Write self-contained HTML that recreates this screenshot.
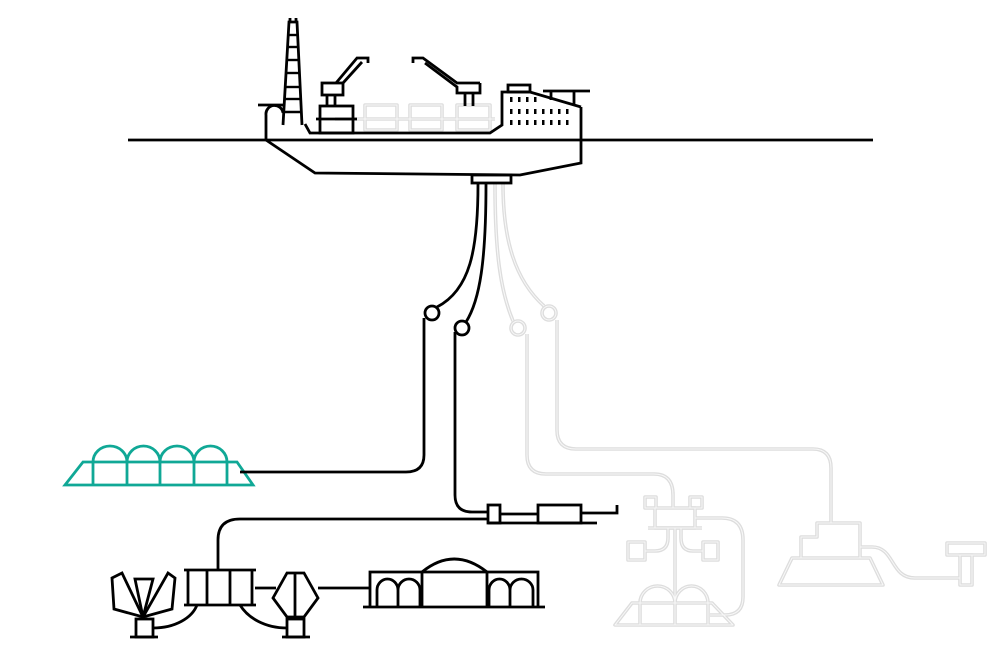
<!DOCTYPE html>
<html><head><meta charset="utf-8"><style>html,body{margin:0;padding:0;background:#fff}svg{display:block}</style></head>
<body>
<svg width="1000" height="667" viewBox="0 0 1000 667" xmlns="http://www.w3.org/2000/svg">
<defs>
<g id="gp">
  <rect x="365" y="105" width="32" height="25"/><rect x="410" y="105" width="32" height="25"/><rect x="457" y="105" width="33" height="25"/>
  <line x1="335" y1="119" x2="495" y2="119"/>
  <path d="M495,184 C495,250 500,290 513,321"/>
  <circle cx="518" cy="328" r="7"/>
  <path d="M527,334 L527,455 Q527,474 546,474 L654,474 Q673,474 673,495 L673,508"/>
  <path d="M503,184 C503,240 515,280 544,306"/>
  <circle cx="549" cy="313" r="7"/>
  <path d="M557,320 L557,430 Q557,449 576,449 L813,449 Q831,449 831,468 L831,523"/>
  <rect x="655" y="508" width="40" height="20"/>
  <line x1="648" y1="528" x2="702" y2="528"/>
  <rect x="645" y="497" width="11" height="11"/><rect x="690" y="497" width="12" height="11"/>
  <rect x="628" y="542" width="17" height="18"/><rect x="703" y="542" width="15" height="18"/>
  <path d="M645,551 L655,551 Q668,551 668,538 L668,528"/>
  <path d="M703,551 L693,551 Q681,551 681,538 L681,528"/>
  <line x1="675" y1="528" x2="675" y2="625"/>
  <path d="M615,625 L733,625 L712,603 L632,603 Z"/>
  <line x1="640" y1="603" x2="640" y2="625"/><line x1="708" y1="603" x2="708" y2="625"/>
  <path d="M640,603 A17.5,17 0 0 1 675,603 A16.5,17 0 0 1 708,603"/>
  <path d="M695,518 L722,518 Q743,518 743,540 L743,597 Q743,615 725,615 L710,615"/>
  <path d="M779,585 L883,585 L870,558 L792,558 Z"/>
  <path d="M801,558 L801,537 L817,537 L817,523 L860,523 L860,558"/>
  <path d="M860,547 L872,547 C895,547 890,578 915,578 L960,578"/>
  <rect x="947" y="543" width="38" height="12"/>
  <rect x="960" y="555" width="12" height="30"/>
</g>
</defs>
<g fill="none" stroke="#dddddd" stroke-width="3.6" stroke-linejoin="round"><use href="#gp"/></g>
<g fill="none" stroke="#f8f8f8" stroke-width="1" stroke-linejoin="round"><use href="#gp"/></g>
<!-- green template -->
<g fill="none" stroke="#10a896" stroke-width="2.8">
  <path d="M65,485 L253,485 L237,462 L83,462 Z"/>
  <line x1="93" y1="462" x2="93" y2="485"/><line x1="127" y1="462" x2="127" y2="485"/><line x1="160" y1="462" x2="160" y2="485"/><line x1="194" y1="462" x2="194" y2="485"/><line x1="227" y1="462" x2="227" y2="485"/>
  <path d="M93,462 A17,16 0 0 1 127,462 A16.5,16 0 0 1 160,462 A17,16 0 0 1 194,462 A16.5,16 0 0 1 227,462"/>
</g>
<!-- black -->
<g fill="none" stroke="#000" stroke-width="2.8" stroke-linejoin="miter">
  <line x1="128" y1="140" x2="873" y2="140"/>
  <path d="M266,140 L315,173 L520,175 L581,163 L581,107"/>
  <path d="M266,140 L266,115 A8,8 0 0 1 283,113"/>
  <path d="M305,124 L310,133 L490,133 L502,125 L502,92 L530,92 L581,107"/>
  <rect x="508" y="85" width="22" height="7"/>
  <line x1="543" y1="91" x2="590" y2="91"/><line x1="551" y1="91" x2="551" y2="100"/><line x1="574" y1="91" x2="574" y2="104"/>
  <path d="M283,125 L289,22 L297,22 L302,125"/>
  <line x1="290" y1="18" x2="290" y2="23"/><line x1="296" y1="18" x2="296" y2="23"/>
  <g stroke-width="2.4"><line x1="289" y1="35" x2="297" y2="35"/><line x1="288" y1="47" x2="298" y2="47"/><line x1="288" y1="60" x2="299" y2="60"/><line x1="287" y1="73" x2="299" y2="73"/><line x1="286" y1="87" x2="300" y2="87"/><line x1="285" y1="99" x2="300" y2="99"/><line x1="284" y1="112" x2="301" y2="112"/></g>
  <line x1="258" y1="105" x2="285" y2="105"/>
  <rect x="320" y="106" width="33" height="27"/>
  <line x1="316" y1="119" x2="357" y2="119"/>
  <line x1="327" y1="95" x2="327" y2="106"/><line x1="335" y1="95" x2="335" y2="106"/>
  <rect x="322" y="83" width="21" height="12"/>
  <path d="M336,83 L357,58 L368,58 L368,63"/><path d="M343,83 L362,62"/>
  <path d="M480,83 L457,83 L423,58 L413,58 L413,63"/><path d="M480,83 L480,93 L457,93 L457,87 L425,63"/>
  <line x1="465" y1="93" x2="465" y2="106"/><line x1="473" y1="93" x2="473" y2="106"/>
  <rect x="472" y="175" width="39" height="8"/>
  <path d="M478,184 C478,250 470,290 437,307"/>
  <circle cx="432" cy="313" r="7"/>
  <path d="M424,318 L424,455 Q424,472 406,472 L240,472"/>
  <path d="M486,184 C486,260 480,300 466,322"/>
  <circle cx="462" cy="328" r="7"/>
  <path d="M455,332 L455,495 Q455,512 472,512 L488,512"/>
  <rect x="488" y="505" width="12" height="18"/>
  <line x1="500" y1="514" x2="538" y2="514"/>
  <line x1="488" y1="523" x2="597" y2="523"/>
  <rect x="538" y="505" width="43" height="18"/>
  <path d="M581,513 L617,513 L617,505"/>
  <path d="M488,519 L240,519 Q218,519 218,540 L218,570"/>
  <line x1="184" y1="570" x2="256" y2="570"/><line x1="184" y1="605" x2="256" y2="605"/>
  <line x1="188" y1="570" x2="188" y2="605"/><line x1="207" y1="570" x2="207" y2="605"/><line x1="230" y1="570" x2="230" y2="605"/><line x1="252" y1="570" x2="252" y2="605"/>
  <path d="M112,578 L122,573 L143,617 L114,609 Z"/>
  <path d="M135,579 L153,579 L143,617 Z"/>
  <path d="M168,573 L175,578 L172,609 L143,617 Z"/>
  <rect x="136" y="619" width="17" height="18"/>
  <line x1="130" y1="637" x2="158" y2="637"/>
  <path d="M153,628 C175,628 192,618 197,605"/>
  <path d="M240,605 C248,618 265,628 287,628"/>
  <path d="M287,573 L304,573 L318,598 L304,617 L287,617 L273,598 Z"/>
  <line x1="295" y1="573" x2="295" y2="617"/>
  <rect x="287" y="619" width="17" height="18"/>
  <line x1="282" y1="637" x2="310" y2="637"/>
  <line x1="255" y1="588" x2="276" y2="588"/>
  <line x1="318" y1="588" x2="370" y2="588"/>
  <path d="M370,607 L370,572 L538,572 L538,607"/>
  <line x1="363" y1="607" x2="545" y2="607"/>
  <path d="M422,607 L422,572 M487,607 L487,572"/>
  <path d="M422,572 Q454,546 487,572"/>
  <path d="M377,607 V590 A10.5,11 0 0 1 398,590 V607 M398,590 A11,11 0 0 1 420,590 V607"/>
  <path d="M489,607 V590 A10.5,11 0 0 1 510,590 V607 M510,590 A11.5,11 0 0 1 533,590 V607"/>
</g>
<g fill="#000">
  <rect x="510" y="97" width="2.5" height="5"/><rect x="518" y="97" width="2.5" height="5"/><rect x="526" y="97" width="2.5" height="5"/><rect x="534" y="97" width="2.5" height="5"/>
  <rect x="510" y="109" width="2.5" height="5"/><rect x="518" y="109" width="2.5" height="5"/><rect x="526" y="109" width="2.5" height="5"/><rect x="534" y="109" width="2.5" height="5"/><rect x="542" y="109" width="2.5" height="5"/><rect x="550" y="109" width="2.5" height="5"/><rect x="558" y="109" width="2.5" height="5"/><rect x="566" y="109" width="2.5" height="5"/>
  <rect x="510" y="120" width="2.5" height="5"/><rect x="518" y="120" width="2.5" height="5"/><rect x="526" y="120" width="2.5" height="5"/><rect x="534" y="120" width="2.5" height="5"/><rect x="542" y="120" width="2.5" height="5"/><rect x="550" y="120" width="2.5" height="5"/><rect x="558" y="120" width="2.5" height="5"/><rect x="566" y="120" width="2.5" height="5"/>
</g>
</svg>
</body></html>
